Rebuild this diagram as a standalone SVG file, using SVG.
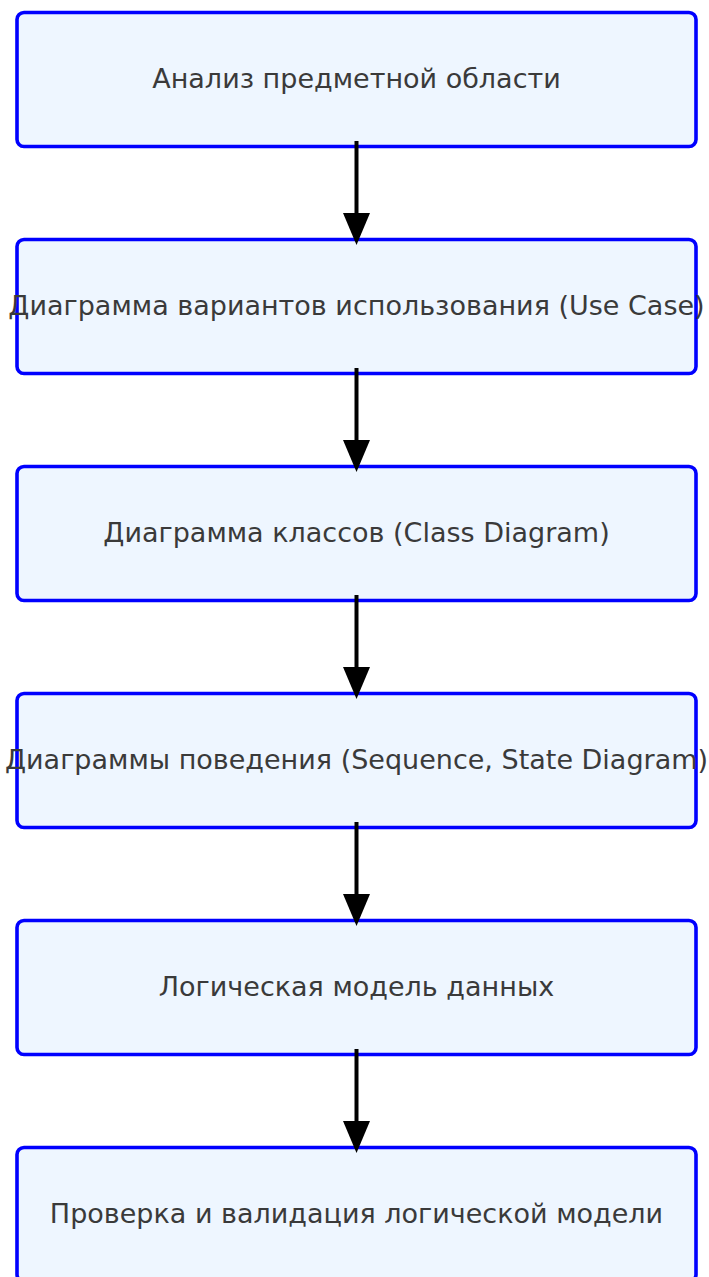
<svg xmlns="http://www.w3.org/2000/svg" width="709" height="1277" viewBox="0 0 709 1277">
<style>
.box{fill:#eef6ff;stroke:#0000ff;stroke-width:3.6}
.lbl{font-family:"DejaVu Sans",sans-serif;font-size:27px;fill:#3a3a3a;text-anchor:middle;dominant-baseline:central}
.edge{stroke:#000;stroke-width:4;fill:none}
</style>
<rect width="709" height="1277" fill="#fff"/>
<g id="n1"><rect class="box" x="17" y="12.5" width="679" height="134" rx="7"/><text class="lbl" x="356.5" y="78">Анализ предметной области</text></g>
<g id="n2"><rect class="box" x="17" y="239.5" width="679" height="134" rx="7"/><text class="lbl" x="356.5" y="305">Диаграмма вариантов использования (Use Case)</text></g>
<g id="n3"><rect class="box" x="17" y="466.5" width="679" height="134" rx="7"/><text class="lbl" x="356.5" y="532">Диаграмма классов (Class Diagram)</text></g>
<g id="n4"><rect class="box" x="17" y="693.5" width="679" height="134" rx="7"/><text class="lbl" x="356.5" y="759">Диаграммы поведения (Sequence, State Diagram)</text></g>
<g id="n5"><rect class="box" x="17" y="920.5" width="679" height="134" rx="7"/><text class="lbl" x="356.5" y="986">Логическая модель данных</text></g>
<g id="n6"><rect class="box" x="17" y="1147.5" width="679" height="134" rx="7"/><text class="lbl" x="356.5" y="1213">Проверка и валидация логической модели</text></g>
<g id="connectors">
<line class="edge" x1="356.5" y1="141" x2="356.5" y2="216"/>
<polygon points="343,213 370,213 356.5,245"/>
<line class="edge" x1="356.5" y1="368" x2="356.5" y2="443"/>
<polygon points="343,440 370,440 356.5,472"/>
<line class="edge" x1="356.5" y1="595" x2="356.5" y2="670"/>
<polygon points="343,667 370,667 356.5,699"/>
<line class="edge" x1="356.5" y1="822" x2="356.5" y2="897"/>
<polygon points="343,894 370,894 356.5,926"/>
<line class="edge" x1="356.5" y1="1049" x2="356.5" y2="1124"/>
<polygon points="343,1121 370,1121 356.5,1153"/>
</g>
</svg>
